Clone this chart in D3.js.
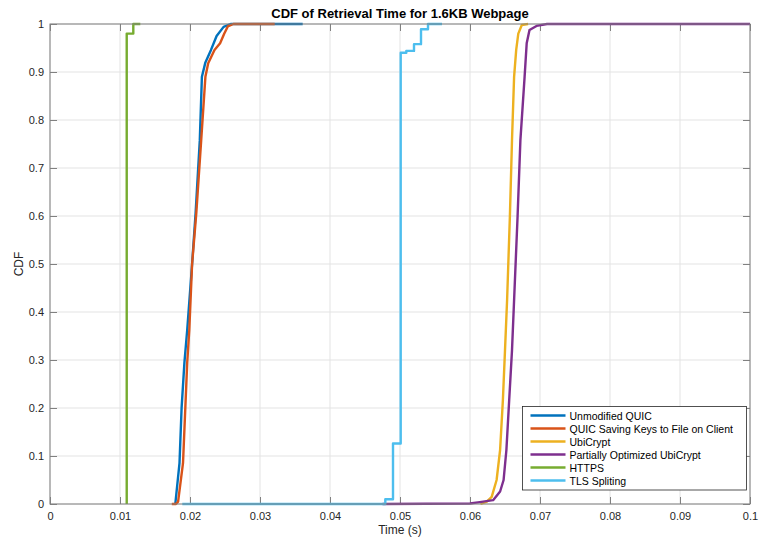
<!DOCTYPE html>
<html>
<head>
<meta charset="utf-8">
<script src="https://cdn.jsdelivr.net/npm/d3@7"></script>
<style>
  html, body { margin: 0; padding: 0; background: #fff; }
  svg { display: block; font-family: "Liberation Sans", Arial, Helvetica, sans-serif; }
</style>
</head>
<body>
<svg id="chart" width="759" height="541"></svg>
<script>
// ---------- data ----------
const seriesNames = ["Unmodified QUIC", "QUIC Saving Keys to File on Client", "UbiCrypt",
                     "Partially Optimized UbiCrypt", "HTTPS", "TLS Spliting"];
const seriesColors = ["#0072BD", "#D95319", "#EDB120", "#7E2F8E", "#77AC30", "#4DBEEE"];

const quicX = [0.0179, 0.0185, 0.0188, 0.0192, 0.0196, 0.0203, 0.0208, 0.0214, 0.0217, 0.0222, 0.0230, 0.0238, 0.0248, 0.0258, 0.0361];
const quicY = [0, 0.085, 0.20, 0.294, 0.3625, 0.5, 0.606, 0.758, 0.89, 0.92, 0.946, 0.975, 0.994, 1, 1];

const keysX = [0.0174, 0.0180, 0.0183, 0.0190, 0.0196, 0.0199, 0.0203, 0.0209, 0.0216, 0.0222, 0.0226, 0.0235, 0.0243, 0.0249, 0.0254, 0.0262, 0.0321];
const keysY = [0, 0, 0.005, 0.085, 0.294, 0.3625, 0.5, 0.606, 0.758, 0.89, 0.918, 0.946, 0.96, 0.98, 0.995, 1, 1];

const ubiX = [0.0615, 0.0624, 0.0631, 0.0638, 0.0643, 0.0647, 0.0650, 0.0653, 0.0657, 0.0660, 0.0663, 0.0666, 0.0669, 0.0674, 0.0683];
const ubiY = [0, 0.005, 0.015, 0.05, 0.1125, 0.217, 0.32, 0.425, 0.6, 0.758, 0.89, 0.946, 0.98, 0.998, 1];

const partX = [0.0475, 0.0600, 0.0614, 0.0633, 0.0643, 0.0648, 0.0652, 0.0656, 0.0660, 0.0663, 0.0668, 0.0672, 0.0678, 0.0681, 0.0685, 0.0695, 0.0710, 0.1];
const partY = [0, 0.001, 0.004, 0.008, 0.026, 0.05, 0.1125, 0.217, 0.32, 0.425, 0.6, 0.758, 0.89, 0.96, 0.9875, 0.996, 1, 1];

const httpsX = [0.01096, 0.01096, 0.0119, 0.0119, 0.0129];
const httpsY = [0, 0.98, 0.98, 1, 1];

const tlsX = [0.0189, 0.0479, 0.0479, 0.0490, 0.0490, 0.0501, 0.0501, 0.0509, 0.0509, 0.0520, 0.0520, 0.0530, 0.0530, 0.0540, 0.0540, 0.0560];
const tlsY = [0, 0, 0.01, 0.01, 0.126, 0.126, 0.94, 0.94, 0.944, 0.944, 0.958, 0.958, 0.989, 0.989, 1, 1];

const xTicks = [0, 0.01, 0.02, 0.03, 0.04, 0.05, 0.06, 0.07, 0.08, 0.09, 0.1];
const yTicks = [0, 0.1, 0.2, 0.3, 0.4, 0.5, 0.6, 0.7, 0.8, 0.9, 1];
const xTickLabels = ["0", "0.01", "0.02", "0.03", "0.04", "0.05", "0.06", "0.07", "0.08", "0.09", "0.1"];
const yTickLabels = ["0", "0.1", "0.2", "0.3", "0.4", "0.5", "0.6", "0.7", "0.8", "0.9", "1"];

const titleText = "CDF of Retrieval Time for 1.6KB Webpage";
const xLabelText = "Time (s)";
const yLabelText = "CDF";

// ---------- layout ----------
const W = 759, H = 541;
const m = { left: 50, right: 9, top: 24, bottom: 37 };
const pw = W - m.left - m.right, ph = H - m.top - m.bottom;

const svg = d3.select("#chart");
const x = d3.scaleLinear().domain([0, 0.1]).range([m.left, m.left + pw]);
const y = d3.scaleLinear().domain([0, 1]).range([m.top + ph, m.top]);

const axisColor = "#808080";
const textColor = "#262626";
const gridColor = "#e3e3e3";
const tickLen = 7;

// grid
const grid = svg.append("g");
grid.selectAll("line.gx").data(xTicks).join("line")
  .attr("x1", d => x(d)).attr("x2", d => x(d))
  .attr("y1", m.top).attr("y2", m.top + ph)
  .attr("stroke", gridColor).attr("stroke-width", 1);
grid.selectAll("line.gy").data(yTicks).join("line")
  .attr("y1", d => y(d)).attr("y2", d => y(d))
  .attr("x1", m.left).attr("x2", m.left + pw)
  .attr("stroke", gridColor).attr("stroke-width", 1);

// axes via d3 axis (inward ticks)
const fmtX = (d, i) => xTickLabels[i];
const fmtY = (d, i) => yTickLabels[i];

const gx = svg.append("g").attr("transform", `translate(0,${m.top + ph})`)
  .call(d3.axisBottom(x).tickValues(xTicks).tickFormat(fmtX).tickSizeInner(-tickLen).tickSizeOuter(0).tickPadding(8));
const gy = svg.append("g").attr("transform", `translate(${m.left},0)`)
  .call(d3.axisLeft(y).tickValues(yTicks).tickFormat(fmtY).tickSizeInner(-tickLen).tickSizeOuter(0).tickPadding(6));
const gxt = svg.append("g").attr("transform", `translate(0,${m.top})`)
  .call(d3.axisTop(x).tickValues(xTicks).tickFormat("").tickSizeInner(-tickLen).tickSizeOuter(0));
const gyr = svg.append("g").attr("transform", `translate(${m.left + pw},0)`)
  .call(d3.axisRight(y).tickValues(yTicks).tickFormat("").tickSizeInner(-tickLen).tickSizeOuter(0));

[gx, gy, gxt, gyr].forEach(g => {
  g.select(".domain").remove();
  g.selectAll(".tick line").attr("stroke", axisColor);
  g.selectAll("text").attr("fill", textColor).style("font-size", "11px")
    .style("font-family", '"Liberation Sans", Arial, Helvetica, sans-serif');
});

// clip
svg.append("clipPath").attr("id", "clip").append("rect")
  .attr("x", m.left).attr("y", m.top - 3).attr("width", pw).attr("height", ph + 6);

// series
const seriesData = [
  [quicX, quicY], [keysX, keysY], [ubiX, ubiY], [partX, partY], [httpsX, httpsY], [tlsX, tlsY]
];
const line = d3.line().x(d => x(d[0])).y(d => y(d[1]));
const lines = svg.append("g").attr("clip-path", "url(#clip)");
seriesData.forEach((s, i) => {
  const pts = s[0].map((v, k) => [v, s[1][k]]);
  lines.append("path").datum(pts)
    .attr("d", line)
    .attr("fill", "none")
    .attr("stroke", seriesColors[i])
    .attr("stroke-width", 2.4)
    .attr("stroke-linejoin", "round");
});

// box
svg.append("rect").attr("x", m.left).attr("y", m.top).attr("width", pw).attr("height", ph)
  .attr("fill", "none").attr("stroke", axisColor).attr("stroke-width", 1);

// title & labels
svg.append("text").attr("x", m.left + pw / 2).attr("y", 17.5)
  .attr("text-anchor", "middle").attr("font-weight", "bold").attr("font-size", 13)
  .attr("fill", "#000").text(titleText);
svg.append("text").attr("x", m.left + pw / 2).attr("y", 534)
  .attr("text-anchor", "middle").attr("font-size", 12).attr("fill", textColor).text(xLabelText);
svg.append("text").attr("transform", `translate(23,${m.top + ph / 2}) rotate(-90)`)
  .attr("text-anchor", "middle").attr("font-size", 12).attr("fill", textColor).text(yLabelText);

// legend
const lg = svg.append("g");
const lgX = 522.5, lgY = 406.5, lgW = 224, lgH = 83.5;
lg.append("rect").attr("x", lgX).attr("y", lgY).attr("width", lgW).attr("height", lgH)
  .attr("fill", "#fff").attr("stroke", "#262626").attr("stroke-width", 0.8);
seriesNames.forEach((name, i) => {
  const cy = lgY + 9 + i * 13;
  lg.append("line").attr("x1", lgX + 8).attr("x2", lgX + 43).attr("y1", cy).attr("y2", cy)
    .attr("stroke", seriesColors[i]).attr("stroke-width", 2.4);
  lg.append("text").attr("x", lgX + 47).attr("y", cy + 4).attr("font-size", 10.5)
    .attr("fill", "#000").text(name);
});
</script>
</body>
</html>
